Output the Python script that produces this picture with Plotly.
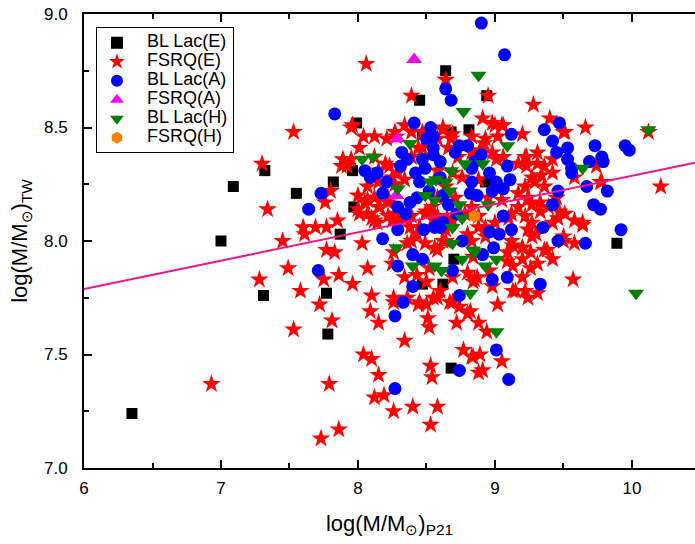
import plotly.graph_objects as go

# ---------------- data ----------------
bl_lac_e = [(6.35, 7.24), (7.0, 8.0), (7.09, 8.24), (7.32, 8.31), (7.31, 7.76), (7.55, 8.21),
            (7.77, 7.77), (7.78, 7.59), (7.82, 8.26), (7.87, 8.03), (7.96, 8.31), (7.97, 8.15),
            (7.99, 8.52), (8.45, 8.62), (8.47, 8.47), (8.64, 8.75), (8.68, 8.48), (8.81, 8.49),
            (8.94, 8.64), (8.47, 7.81), (8.62, 7.81), (8.68, 7.44), (9.89, 7.99), (8.93, 8.26),
            (8.70, 7.92)]

fsrq_e = [
    (7.53, 8.48), (7.30, 8.34), (7.34, 8.14), (7.89, 8.36), (7.88, 8.33), (7.80, 8.22), (7.76, 8.17),
    (7.85, 8.09), (7.60, 8.06), (7.69, 8.06), (7.77, 8.06), (7.61, 8.03), (7.45, 8.00), (7.77, 7.96),
    (7.83, 7.95), (7.49, 7.88), (7.96, 8.51), (7.28, 7.83), (7.58, 7.78), (7.72, 7.72), (7.75, 7.83),
    (7.86, 7.85), (7.81, 7.65), (7.53, 7.61), (6.93, 7.37), (7.79, 7.37), (7.73, 7.13), (7.86, 7.17),
    (8.09, 7.69), (8.15, 7.64), (8.04, 7.50), (8.10, 7.48), (8.15, 7.41), (8.12, 7.31), (8.19, 7.32),
    (8.26, 7.25), (8.34, 7.56), (8.40, 7.27), (8.51, 7.66), (8.52, 7.62), (8.53, 7.45), (8.54, 7.40),
    (8.58, 7.27), (8.53, 7.19), (8.72, 7.64), (8.77, 7.52), (8.80, 7.68), (8.84, 7.49), (8.88, 7.42),
    (8.10, 7.76), (8.26, 7.75), (8.44, 7.72), (8.50, 7.72), (8.58, 7.75), (8.69, 7.73), (8.88, 7.64),
    (8.94, 7.60), (8.83, 7.49), (8.89, 7.50), (8.91, 7.43), (9.05, 7.47), (9.02, 7.72), (9.15, 7.78),
    (9.22, 7.78), (9.24, 7.75), (9.31, 7.77), (9.57, 7.83), (8.98, 7.80), (8.85, 7.83), (7.96, 7.81),
    (10.21, 8.24), (9.58, 8.09), (9.64, 8.07), (9.50, 8.02), (9.38, 7.96), (9.27, 8.02), (9.13, 7.98),
    (9.20, 7.97), (9.26, 7.88), (9.20, 7.84), (9.13, 7.78), (9.09, 7.91), (8.87, 7.84), (8.88, 8.06),
    (9.27, 8.16), (9.33, 8.13), (9.47, 8.13), (9.77, 8.26),
    (9.28, 8.60), (8.95, 8.64), (8.91, 8.54), (8.98, 8.52), (9.05, 8.51), (9.40, 8.54), (9.50, 8.48),
    (9.66, 8.50), (9.20, 8.47), (8.92, 8.43), (9.22, 8.37), (9.31, 8.39), (9.74, 8.33), (10.12, 8.48),
    (8.06, 8.78), (8.39, 8.64), (8.04, 8.46), (8.34, 8.51), (8.39, 8.48), (8.28, 8.46), (8.62, 8.49),
    (8.68, 8.45), (8.83, 8.46), (8.64, 8.71), (8.23, 8.33), (8.44, 8.41),
    (8.03, 7.99), (8.07, 7.88), (8.05, 8.17), (8.12, 8.19), (8.16, 8.15), (8.22, 8.17), (8.01, 8.12),
    (8.10, 8.10), (8.14, 8.08), (8.25, 8.09), (8.28, 8.12), (8.33, 8.10), (8.38, 8.06), (8.43, 8.03),
    (8.45, 8.06), (8.36, 7.99), (8.26, 7.95), (8.25, 7.90), (8.34, 7.84), (8.43, 7.85), (8.52, 7.88),
    (8.50, 7.82), (8.36, 7.75), (8.26, 7.73), (8.45, 7.73), (8.55, 7.75), (8.60, 7.78), (8.67, 7.73),
    (8.74, 7.71), (8.84, 7.82), (8.82, 7.69), (8.50, 8.13), (8.55, 8.10), (8.65, 8.10), (8.62, 8.00),
    (8.58, 7.96), (8.80, 8.03), (8.84, 7.93), (8.80, 7.86), (8.69, 7.84),
    (9.00, 8.51), (9.06, 8.51), (9.23, 8.37), (9.17, 8.34), (9.23, 8.33), (9.31, 8.34), (9.36, 8.33),
    (9.42, 8.36), (9.34, 8.29), (9.27, 8.28), (9.42, 8.30), (9.29, 8.26), (9.36, 8.24), (9.22, 8.24),
    (9.17, 8.21), (9.24, 8.19), (9.33, 8.17), (9.39, 8.15), (9.51, 8.12), (9.17, 8.15), (9.12, 8.12),
    (9.22, 8.11), (9.27, 8.08), (9.42, 8.08), (9.46, 8.10), (9.12, 8.00), (9.20, 7.97), (9.26, 7.95),
    (9.36, 7.96), (9.24, 8.05), (9.58, 7.99), (9.42, 7.92), (9.31, 7.90), (9.20, 7.92), (9.13, 7.89),
    (9.09, 7.95), (9.78, 8.26), (9.51, 8.48), (9.02, 8.46), (8.93, 8.45), (8.89, 8.40), (8.98, 8.39),
    (9.01, 8.36), (9.06, 8.37), (8.83, 8.39), (8.73, 8.37), (8.66, 8.41), (8.58, 8.45), (8.69, 8.47),
    (8.62, 8.50), (8.47, 8.48), (8.27, 8.48), (8.21, 8.45), (8.12, 8.46), (7.95, 8.50), (8.01, 8.41),
    (8.12, 8.37), (8.20, 8.34), (7.95, 8.36), (7.92, 8.33), (8.15, 8.31), (8.25, 8.28), (8.29, 8.30),
    (8.34, 8.27), (8.27, 8.25), (8.15, 8.26), (8.07, 8.24), (8.00, 8.20), (8.07, 8.18), (8.15, 8.15),
    (8.22, 8.19), (8.00, 8.14), (8.07, 8.12), (8.12, 8.09), (8.22, 8.11), (8.29, 8.08), (8.39, 8.11),
    (8.45, 8.06), (8.49, 8.12), (8.54, 8.15), (8.58, 8.11), (8.64, 8.05), (8.69, 8.09), (8.78, 8.12),
    (8.83, 8.15), (8.88, 8.11), (8.93, 8.06), (9.00, 8.08), (9.05, 8.18), (8.95, 8.19), (8.71, 8.19),
    (8.64, 8.24), (8.58, 8.19), (8.88, 8.27), (8.76, 8.28), (8.69, 8.30), (8.58, 8.31), (8.39, 8.37),
    (8.47, 8.41), (8.39, 8.00), (8.49, 7.99), (8.56, 7.97), (8.64, 8.00), (8.83, 8.00), (8.93, 8.02),
    (9.10, 8.10), (9.30, 8.03), (9.50, 8.00), (9.64, 8.08), (9.45, 8.19), (9.58, 8.28), (8.96, 7.87),
]

bl_lac_a = [
    (8.90, 8.96), (9.07, 8.82), (8.64, 8.67), (8.68, 8.62), (8.41, 8.52), (8.53, 8.50), (8.55, 8.46),
    (8.50, 8.45), (8.55, 8.41), (8.74, 8.42), (8.80, 8.42), (8.71, 8.39), (8.32, 8.39), (8.36, 8.36),
    (8.31, 8.33), (8.47, 8.36), (8.49, 8.32), (8.60, 8.35), (8.42, 8.30), (8.45, 8.26), (8.05, 8.31),
    (8.09, 8.28), (8.14, 8.30), (8.21, 8.26), (8.18, 8.21), (8.29, 8.15), (8.38, 8.17), (8.43, 8.19),
    (9.12, 8.47), (9.09, 8.33), (8.83, 8.32), (8.96, 8.30), (9.01, 8.26), (9.11, 8.27), (9.06, 8.23),
    (8.83, 8.26), (8.82, 8.21), (8.87, 8.20), (8.98, 8.22), (9.36, 8.49), (9.42, 8.44), (9.47, 8.52),
    (9.45, 8.39), (9.53, 8.41), (9.53, 8.36), (9.56, 8.32), (9.56, 8.30), (9.69, 8.35), (9.73, 8.42),
    (9.78, 8.37), (9.79, 8.35), (9.95, 8.42), (9.98, 8.40), (9.46, 8.22), (9.67, 8.24), (9.82, 8.22),
    (9.42, 8.16), (9.72, 8.16), (9.77, 8.14), (9.92, 8.05), (9.66, 7.99), (9.46, 8.00), (9.35, 8.06),
    (9.12, 8.05), (9.03, 8.03), (8.96, 8.04), (9.06, 8.11), (8.99, 7.97), (8.91, 7.94), (8.76, 8.00),
    (8.60, 8.06), (8.56, 8.06), (8.29, 8.05), (8.18, 8.01), (8.40, 7.94), (8.47, 7.92), (8.29, 7.89),
    (7.73, 8.21), (7.64, 8.14), (7.71, 7.87), (8.40, 7.80), (8.33, 7.73), (8.58, 8.07), (8.62, 8.08),
    (8.69, 7.87), (8.74, 7.76), (8.27, 7.67), (8.98, 7.83), (9.09, 7.84), (9.33, 7.81), (9.01, 7.52),
    (8.74, 7.43), (9.10, 7.39), (8.27, 7.35), (7.83, 8.56), (8.52, 8.22), (8.62, 8.20), (8.66, 8.16),
    (8.35, 8.12), (8.72, 8.12), (8.60, 8.28), (8.48, 8.05), (8.85, 8.35), (8.90, 8.38), (8.55, 8.38),
]

fsrq_a = [(8.41, 8.80), (8.29, 8.45), (8.28, 8.20)]

bl_lac_h = [
    (8.88, 8.73), (8.77, 8.57), (10.12, 8.49), (9.09, 8.42), (8.38, 8.43), (8.03, 8.36), (8.11, 8.37),
    (8.78, 8.34), (8.91, 8.34), (8.68, 8.31), (9.64, 8.32), (8.29, 8.23), (8.53, 8.26), (8.64, 8.26),
    (8.67, 8.22), (8.49, 8.20), (8.56, 8.18), (8.74, 8.16), (8.95, 8.16), (8.76, 8.10), (8.69, 8.06),
    (8.28, 7.97), (8.69, 7.99), (8.85, 7.95), (9.01, 7.92), (8.76, 7.92), (8.56, 7.89), (8.40, 7.89),
    (8.93, 7.89), (8.61, 7.87), (8.82, 7.77), (9.01, 7.60), (10.03, 7.77), (8.84, 7.96), (8.57, 8.27),
]

fsrq_h = [(8.85, 8.11)]

# regression line
fit_x = [6.0, 10.46]
fit_slope = 0.1245
fit_intercept = 7.042

x_ticks = [6, 7, 8, 9, 10]
y_ticks = [7.0, 7.5, 8.0, 8.5, 9.0]

# ---------------- figure ----------------
FONT = "Liberation Sans, Arial, sans-serif"

series = [
    ("BL Lac(E)", bl_lac_e, "square", "#000000", 11),
    ("FSRQ(E)", fsrq_e, "star", "#ff0000", 14),
    ("BL Lac(A)", bl_lac_a, "circle", "#0000ff", 13),
    ("FSRQ(A)", fsrq_a, "triangle-up", "#ff00ff", 14),
    ("BL Lac(H)", bl_lac_h, "triangle-down", "#007f00", 14),
    ("FSRQ(H)", fsrq_h, "hexagon", "#ff8000", 13),
]

fig = go.Figure()
for name, pts, sym, col, size in series:
    fig.add_trace(go.Scatter(
        x=[p[0] for p in pts], y=[p[1] for p in pts], mode="markers",
        name="\u00a0\u00a0\u00a0<span style='font-size:18px'>" + name + "</span>",
        marker=dict(symbol=sym, color=col, size=size, line=dict(width=0)),
    ))

fig.add_trace(go.Scatter(
    x=fit_x, y=[fit_intercept + fit_slope * v for v in fit_x], mode="lines",
    line=dict(color="#f0168c", width=2), showlegend=False, hoverinfo="skip",
))

axis_common = dict(
    showline=True, linecolor="black", linewidth=2, showgrid=False, zeroline=False,
    ticks="inside", ticklen=8, tickwidth=2, tickcolor="black",
    tickfont=dict(family=FONT, size=17, color="black"),
)

fig.update_layout(
    width=695, height=544,
    margin=dict(l=84, r=0, t=14, b=76),
    plot_bgcolor="white", paper_bgcolor="white",
    font=dict(family=FONT, color="black"),
    xaxis=dict(
        **axis_common, range=[6, 10.46], tickvals=x_ticks, mirror="ticks",
        ticklabelstandoff=4,
        minor=dict(ticks="inside", ticklen=5, tickwidth=2, tickcolor="black", dtick=0.5, tick0=6),
        title=dict(text="log(M/M<sub>⊙</sub>)<sub>P21</sub>", font=dict(family=FONT, size=22), standoff=18),
    ),
    yaxis=dict(
        **axis_common, range=[7.0, 9.0], tickvals=y_ticks, tickformat=".1f",
        ticklabelstandoff=11,
        minor=dict(ticks="inside", ticklen=5, tickwidth=2, tickcolor="black", dtick=0.25, tick0=7),
        title=dict(text="log(M/M<sub>⊙</sub>)<sub>TW</sub>", font=dict(family=FONT, size=22), standoff=10),
    ),
    yaxis2=dict(
        overlaying="y", side="right", range=[7.0, 9.0], showline=False, showgrid=False,
        zeroline=False, showticklabels=False, tickvals=y_ticks,
        ticks="inside", ticklen=3, tickwidth=2, tickcolor="black",
    ),
    legend=dict(
        x=0.0196, y=0.971, xanchor="left", yanchor="top",
        bordercolor="black", borderwidth=1, bgcolor="white",
        font=dict(family=FONT, size=12, color="black"),
        tracegroupgap=0, itemsizing="constant",
    ),
    showlegend=True,
)

fig.write_html("out.html")
